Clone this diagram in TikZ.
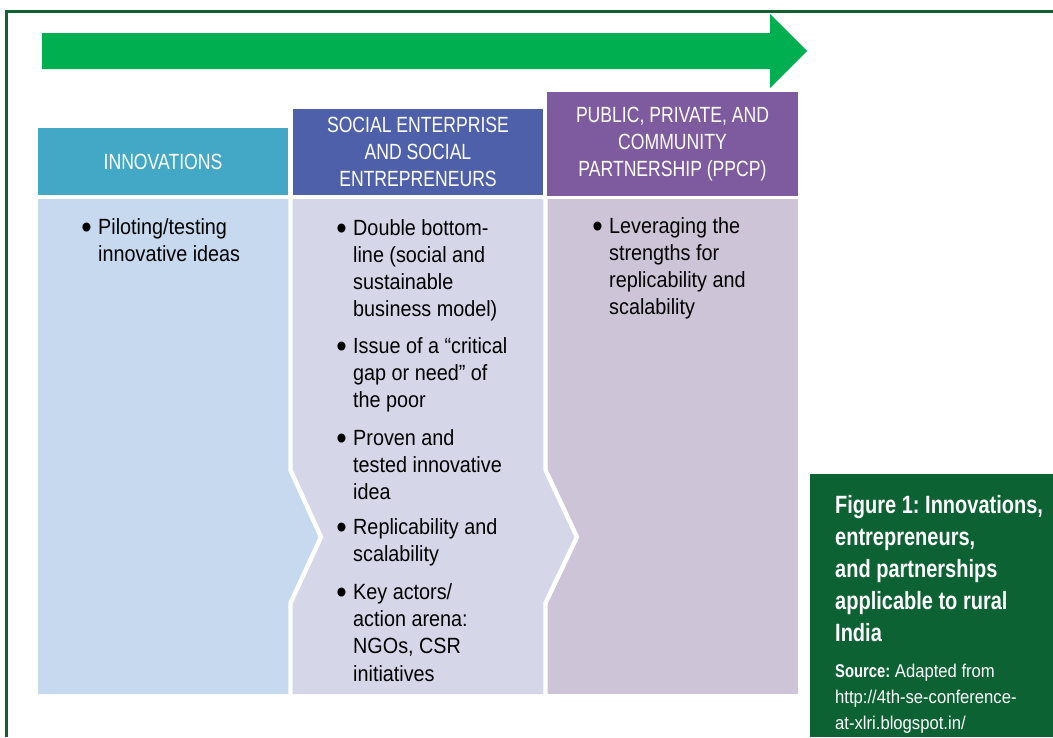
\documentclass[tikz,border=0pt]{standalone}
\usepackage{fontspec}
\setmainfont{Liberation Sans}[FakeStretch=0.9, BoldFeatures={FakeStretch=0.8}]
\newfontfamily\headfont{Liberation Sans}[FakeStretch=0.8]
\frenchspacing

\definecolor{framegreen}{RGB}{16,96,48}
\definecolor{arrowgreen}{RGB}{0,176,80}
\definecolor{headA}{RGB}{66,168,197}
\definecolor{headB}{RGB}{79,96,171}
\definecolor{headC}{RGB}{126,91,158}
\definecolor{bodyA}{RGB}{198,217,238}
\definecolor{bodyB}{RGB}{213,215,232}
\definecolor{bodyC}{RGB}{206,196,216}
\definecolor{capgreen}{RGB}{12,98,50}

% bullet hanging to the left of the item text
\newcommand\bul{\llap{\raisebox{-4.5pt}{\fontsize{33}{27}\selectfont\textbullet}\hspace{6.5pt}}}

\tikzset{
  headbox/.style={rectangle, inner sep=0pt, text=white, align=center,
    font=\headfont\fontsize{22}{27}\selectfont},
  bodytext/.style={anchor=base west, inner sep=0pt, text=black,
    font=\fontsize{22}{27}\selectfont},
  sepline/.style={white, line width=4.4pt, line join=miter},
}

\begin{document}
\begin{tikzpicture}[x=1pt,y=-1pt]
\useasboundingbox (0,0) rectangle (1053,737);

% outer frame (top and left edges)
\draw[framegreen, line width=2.6pt] (6.7,737) -- (6.7,11.3) -- (1053,11.3);

% progress arrow
\fill[arrowgreen] (42,33) -- (770,33) -- (770,14) -- (807,51) -- (770,88)
  -- (770,69) -- (42,69) -- cycle;

% column headers
\node[headbox, fill=headA, minimum width=250pt, minimum height=67pt]
  (hA) at (163,161.5) {INNOVATIONS};
\node[headbox, fill=headB, minimum width=250pt, minimum height=86pt]
  (hB) at (418,152) {SOCIAL ENTERPRISE\\AND SOCIAL\\ENTREPRENEURS};
\node[headbox, fill=headC, minimum width=251pt, minimum height=104pt]
  (hC) at (672.5,144) {PUBLIC, PRIVATE, AND\\COMMUNITY\\PARTNERSHIP (PPCP)};

% column bodies, chevron tips overlapping the next column
\fill[bodyC] (547,199) rectangle (798,694);
\fill[bodyB] (290.5,199) -- (545.5,199) -- (545.5,470) -- (577,537)
  -- (545.5,603) -- (545.5,694) -- (290.5,694) -- cycle;
\fill[bodyA] (38,199) -- (290.5,199) -- (290.5,470) -- (321,537)
  -- (290.5,603) -- (290.5,694) -- (38,694) -- cycle;
\draw[sepline] (290.5,199) -- (290.5,470) -- (321,537) -- (290.5,603) -- (290.5,694);
\draw[sepline] (545.5,199) -- (545.5,470) -- (577,537) -- (545.5,603) -- (545.5,694);

% body texts
\node[bodytext] (tA) at (98,234) {\begin{tabular}[t]{@{}l@{}}
\bul Piloting/testing\\
innovative ideas
\end{tabular}};

\node[bodytext] (tB) at (353,235) {\begin{tabular}[t]{@{}l@{}}
\bul Double bottom-\\
line (social and\\
sustainable\\
business model)\\[10pt]
\bul Issue of a “critical\\
gap or need” of\\
the poor\\[11pt]
\bul Proven and\\
tested innovative\\
idea\\[8pt]
\bul Replicability and\\
scalability\\[11pt]
\bul Key actors/\\
action arena:\\
NGOs, CSR\\[1pt]
initiatives
\end{tabular}};

\node[bodytext] (tC) at (609,233) {\begin{tabular}[t]{@{}l@{}}
\bul Leveraging the\\
strengths for\\
replicability and\\
scalability
\end{tabular}};

% caption panel
\fill[capgreen] (810,474) rectangle (1053,737);
\node[anchor=base west, inner sep=0pt, text=white,
  font=\bfseries\fontsize{25}{32}\selectfont] (cap) at (835,513)
  {\begin{tabular}[t]{@{}l@{}}
  Figure 1: Innovations,\\
  entrepreneurs,\\
  and partnerships\\
  applicable to rural\\
  India
  \end{tabular}};
\node[anchor=base west, inner sep=0pt, text=white,
  font=\fontsize{18.5}{26}\selectfont] (src) at (835,677)
  {\begin{tabular}[t]{@{}l@{}}
  \textbf{Source:} Adapted from\\
  http://4th-se-conference-\\
  at-xlri.blogspot.in/
  \end{tabular}};

\end{tikzpicture}
\end{document}
